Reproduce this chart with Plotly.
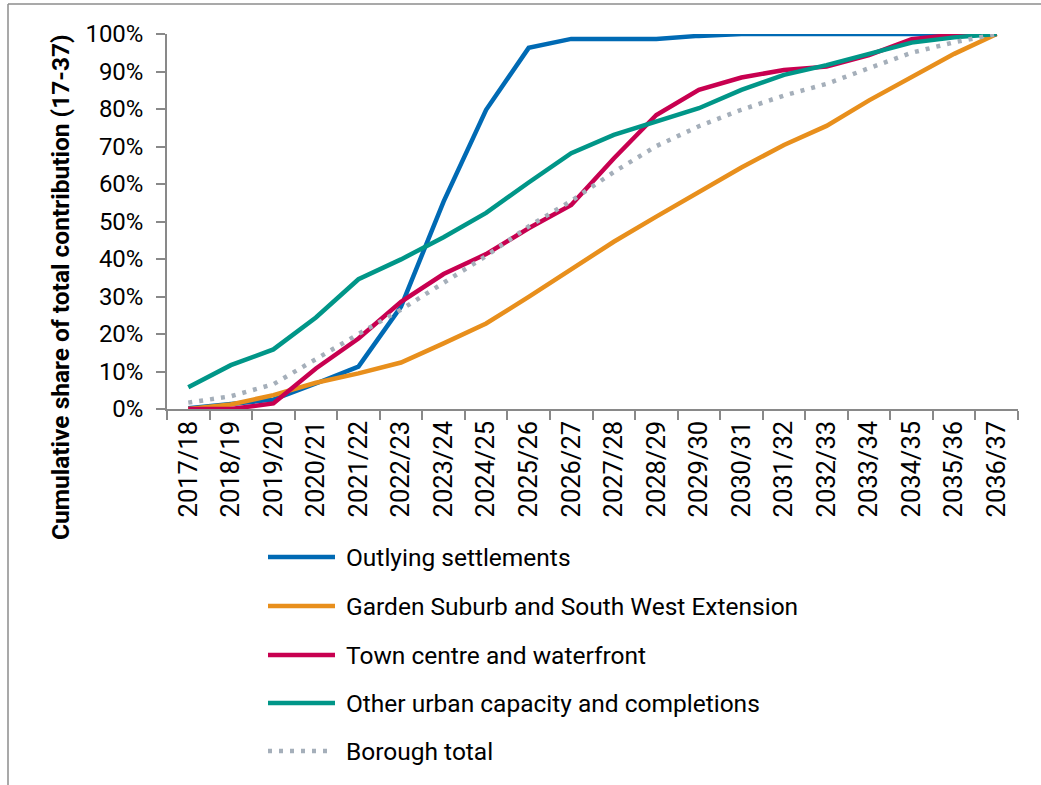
import plotly.graph_objects as go

# Financial years on the category axis
years = ["2017/18", "2018/19", "2019/20", "2020/21", "2021/22", "2022/23", "2023/24",
         "2024/25", "2025/26", "2026/27", "2027/28", "2028/29", "2029/30", "2030/31",
         "2031/32", "2032/33", "2033/34", "2034/35", "2035/36", "2036/37"]

# Cumulative share of the 2017-37 contribution, in percent
outlying = [0.2, 1.3, 2.5, 6.8, 11.3, 27.3, 55.3, 79.8, 96.3, 98.7,
            98.7, 98.7, 99.5, 100, 100, 100, 100, 100, 100, 100]
garden_suburb = [0, 1.2, 3.7, 7.0, 9.5, 12.4, 17.5, 22.8, 29.9, 37.1,
                 44.6, 51.3, 57.9, 64.4, 70.4, 75.5, 82.3, 88.6, 94.7, 100]
town_centre = [0, 0, 1.5, 10.8, 18.8, 28.6, 36.0, 41.3, 48.2, 54.4,
               66.8, 78.4, 85.1, 88.4, 90.4, 91.3, 94.4, 98.6, 99.8, 100]
other_urban = [5.8, 11.7, 15.9, 24.4, 34.6, 39.9, 45.8, 52.3, 60.4, 68.2,
               73.1, 76.6, 80.2, 85.1, 89.1, 91.7, 94.6, 97.7, 99.1, 100]
borough_total = [1.7, 3.4, 6.6, 13.4, 20.0, 26.5, 33.5, 40.8, 48.7, 55.5,
                 63.2, 70.1, 75.4, 79.8, 83.6, 86.7, 90.9, 95.0, 97.8, 100]

series_names = ["Outlying settlements", "Garden Suburb and South West Extension",
                "Town centre and waterfront", "Other urban capacity and completions",
                "Borough total"]
y_ticks = [0, 10, 20, 30, 40, 50, 60, 70, 80, 90, 100]
y_tick_labels = [f"{v}%" for v in y_ticks]
y_title = "Cumulative share of total contribution (17-37)"

W, H = 1041, 785
ML, MR, MT, MB = 167, 23, 34, 376
FONT = "Roboto, Arial, sans-serif"
AXIS_GREY = "#898989"

styles = [
    dict(color="#006AB4", width=4.5),
    dict(color="#E88F1C", width=4.5),
    dict(color="#C80050", width=4.5),
    dict(color="#009688", width=4.5),
    dict(color="#A5AFBA", width=4.5, dash="4px,7px"),
]
values = [outlying, garden_suburb, town_centre, other_urban, borough_total]


def px_x(px):
    return (px - ML) / (W - ML - MR)


def px_y(py):
    return (H - MB - py) / (H - MT - MB)


fig = go.Figure()
for name, vals, st in zip(series_names, values, styles):
    fig.add_trace(go.Scatter(x=years, y=vals, name=name, mode="lines",
                             line=st, showlegend=False, hoverinfo="x+y+name"))

# Legend drawn as line samples with labels beneath the chart
shapes = []
annotations = []
legend_rows = [557, 606, 655, 703, 751]
for name, st, row in zip(series_names, styles, legend_rows):
    x1 = 331 if st.get("dash") else 335
    shapes.append(dict(type="line", xref="paper", yref="paper",
                       x0=px_x(268), x1=px_x(x1), y0=px_y(row), y1=px_y(row),
                       line=dict(color=st["color"], width=st["width"],
                                 dash=st.get("dash", "solid"))))
    annotations.append(dict(text=name, xref="paper", yref="paper",
                            x=px_x(344), y=px_y(row), xanchor="left", yanchor="middle",
                            showarrow=False, font=dict(family=FONT, size=24.5, color="#000")))

# Axis title, centred on the plot and category label block
annotations.append(dict(text="<b>" + y_title + "</b>", xref="paper", yref="paper",
                        x=px_x(60), y=px_y(287), textangle=-90,
                        xanchor="center", yanchor="middle", showarrow=False,
                        font=dict(family=FONT, size=24.5, color="#000")))

# Chart frame (top and left edges)
frame = dict(color="#8c8c8c", width=1.5)
shapes.append(dict(type="line", xref="paper", yref="paper", x0=px_x(8), x1=px_x(W + 2),
                   y0=px_y(4), y1=px_y(4), line=frame))
shapes.append(dict(type="line", xref="paper", yref="paper", x0=px_x(8), x1=px_x(8),
                   y0=px_y(4), y1=px_y(H + 2), line=frame))

fig.update_layout(
    width=W, height=H,
    margin=dict(l=ML, r=MR, t=MT, b=MB),
    paper_bgcolor="white", plot_bgcolor="white",
    font=dict(family=FONT, size=24, color="#000"),
    shapes=shapes, annotations=annotations,
    xaxis=dict(type="category", range=[-0.5, len(years) - 0.5], tickson="boundaries",
               ticks="outside", ticklen=9,
               tickcolor=AXIS_GREY, tickwidth=1.5, showline=True, linecolor=AXIS_GREY,
               linewidth=1.5, showgrid=False, tickangle=-90,
               tickfont=dict(family=FONT, size=25.5, color="#000"), fixedrange=True),
    yaxis=dict(range=[0, 100], tickmode="array", tickvals=y_ticks, ticktext=y_tick_labels,
               ticks="outside", ticklabelstandoff=8,
               ticklen=9, tickcolor=AXIS_GREY, tickwidth=1.5, showline=True,
               linecolor=AXIS_GREY, linewidth=1.5, showgrid=False, zeroline=False,
               tickfont=dict(family=FONT, size=24, color="#000"), fixedrange=True),
)

fig.write_html("out.html")
